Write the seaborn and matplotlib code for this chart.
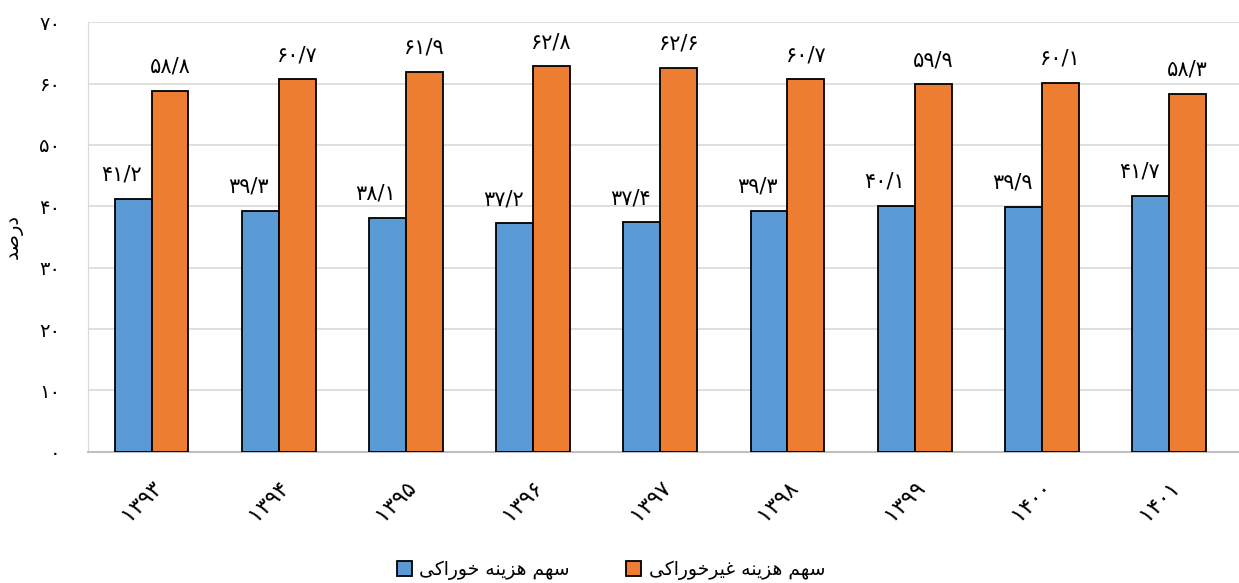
import pandas as pd
import matplotlib.pyplot as plt
import seaborn as sns

# === Data ===
years = ["1393", "1394", "1395", "1396", "1397", "1398", "1399", "1400", "1401"]
food_share = [41.2, 39.3, 38.1, 37.2, 37.4, 39.3, 40.1, 39.9, 41.7]
nonfood_share = [58.8, 60.7, 61.9, 62.8, 62.6, 60.7, 59.9, 60.1, 58.3]
y_ticks = [0, 10, 20, 30, 40, 50, 60, 70]

label_food = "سهم هزینه خوراکی"
label_nonfood = "سهم هزینه غیرخوراکی"
y_title = "درصد"

BLUE = "#5B9BD5"
ORANGE = "#ED7D31"

# --- minimal Persian shaping (matplotlib does no Arabic shaping / bidi) ---
FORMS = {
    "ا": ("\uFE8D", "\uFE8E", None, None),
    "خ": ("\uFEA5", "\uFEA6", "\uFEA7", "\uFEA8"),
    "د": ("\uFEA9", "\uFEAA", None, None),
    "ر": ("\uFEAD", "\uFEAE", None, None),
    "ز": ("\uFEAF", "\uFEB0", None, None),
    "س": ("\uFEB1", "\uFEB2", "\uFEB3", "\uFEB4"),
    "ص": ("\uFEB9", "\uFEBA", "\uFEBB", "\uFEBC"),
    "غ": ("\uFECD", "\uFECE", "\uFECF", "\uFED0"),
    "م": ("\uFEE1", "\uFEE2", "\uFEE3", "\uFEE4"),
    "ن": ("\uFEE5", "\uFEE6", "\uFEE7", "\uFEE8"),
    "ه": ("\uFEE9", "\uFEEA", "\uFEEB", "\uFEEC"),
    "و": ("\uFEED", "\uFEEE", None, None),
    "ک": ("\uFB8E", "\uFB8F", "\uFB90", "\uFB91"),
    "ی": ("\uFBFC", "\uFBFD", "\uFBFE", "\uFBFF"),
}


def dual(ch):
    return ch in FORMS and FORMS[ch][2] is not None


def shape(text):
    out = []
    for i, ch in enumerate(text):
        if ch not in FORMS:
            out.append(ch)
            continue
        prev = text[i - 1] if i > 0 else ""
        nxt = text[i + 1] if i + 1 < len(text) else ""
        jp = dual(prev)
        jn = dual(ch) and nxt in FORMS
        iso, fin, ini, med = FORMS[ch]
        if jp and jn:
            out.append(med)
        elif jp:
            out.append(fin)
        elif jn:
            out.append(ini)
        else:
            out.append(iso)
    return "".join(out)[::-1]


def fa_digits(s):
    return str(s).translate(str.maketrans("0123456789.", "۰۱۲۳۴۵۶۷۸۹/"))


plt.rcParams['font.family'] = ['DejaVu Sans', 'Noto Sans']

df = pd.DataFrame({
    "year": years * 2,
    "value": food_share + nonfood_share,
    "series": [label_food] * len(years) + [label_nonfood] * len(years),
})

fig = plt.figure(figsize=(12.39, 5.83), dpi=100)
ax = fig.add_axes([0.071, 0.225, 0.929, 0.737])

sns.barplot(
    data=df, x="year", y="value", hue="series",
    palette=[BLUE, ORANGE], width=0.58, gap=0,
    edgecolor="black", linewidth=1.3, saturation=1, ax=ax, zorder=3
)

# value labels
for cont, vals, dx in zip(ax.containers, [food_share, nonfood_share], [-0.09, 0.0]):
    for bar, v in zip(cont, vals):
        ax.text(bar.get_x() + bar.get_width() / 2 + dx, v + 2.3, fa_digits(v),
                ha="center", va="bottom", fontsize=15)

ax.set_ylim(0, 70)
ax.set_xlim(-0.5, len(years) - 0.45)
ax.set_yticks(y_ticks)
ax.set_yticklabels([fa_digits(t) for t in y_ticks], fontsize=14)
ax.set_xticks(range(len(years)))
ax.set_xticklabels([fa_digits(y) for y in years], rotation=45, ha="right",
                   rotation_mode="anchor", fontsize=16)
ax.tick_params(axis="both", length=0)
ax.tick_params(axis="y", pad=20)
ax.tick_params(axis="x", pad=18)

ax.set_xlabel("")
ax.set_ylabel(shape(y_title), fontsize=14, labelpad=12)

ax.grid(axis="y", color="#D9D9D9", linewidth=1.2, zorder=0)
ax.set_axisbelow(True)
for side in ["top", "right"]:
    ax.spines[side].set_visible(False)
ax.spines["left"].set_color("#D9D9D9")
ax.spines["bottom"].set_color("#BFBFBF")
ax.spines["bottom"].set_linewidth(1.5)

handles, _ = ax.get_legend_handles_labels()
ax.get_legend().remove()
fig.legend(handles, [shape(label_food), shape(label_nonfood)],
           loc="center", bbox_to_anchor=(0.493, 0.022), ncol=2,
           frameon=False, fontsize=13.5, handlelength=0.8, handleheight=0.8,
           columnspacing=3.0, handletextpad=0.4, borderpad=0.1)

plt.savefig("out.png", dpi=100)
plt.close()
